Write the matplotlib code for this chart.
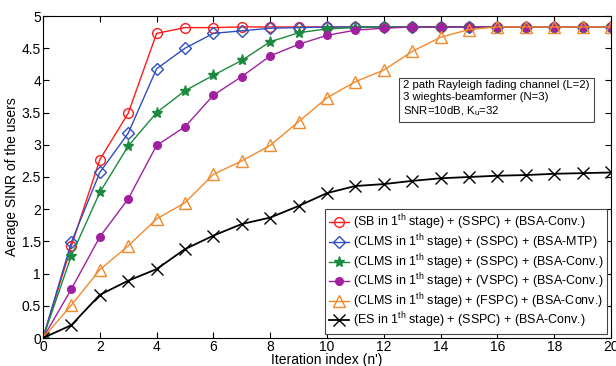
import matplotlib
matplotlib.use('Agg')
import matplotlib.pyplot as plt

iters = list(range(21))

sb_sspc_conv = [0, 1.43, 2.77, 3.49, 4.73, 4.82, 4.82, 4.83, 4.83, 4.83, 4.83,
                4.83, 4.83, 4.83, 4.83, 4.83, 4.83, 4.83, 4.83, 4.83, 4.83]
clms_sspc_mtp = [0, 1.49, 2.57, 3.18, 4.18, 4.50, 4.73, 4.77, 4.81, 4.82, 4.83,
                 4.83, 4.83, 4.83, 4.83, 4.83, 4.83, 4.83, 4.83, 4.83, 4.83]
clms_sspc_conv = [0, 1.28, 2.26, 2.98, 3.50, 3.84, 4.08, 4.31, 4.60, 4.74, 4.80,
                  4.82, 4.83, 4.83, 4.83, 4.83, 4.83, 4.83, 4.83, 4.83, 4.83]
clms_vspc_conv = [0, 0.76, 1.57, 2.16, 2.99, 3.28, 3.77, 4.06, 4.38, 4.56, 4.70,
                  4.78, 4.81, 4.83, 4.83, 4.83, 4.83, 4.83, 4.83, 4.83, 4.83]
clms_fspc_conv = [0, 0.51, 1.06, 1.43, 1.85, 2.10, 2.54, 2.75, 2.99, 3.36, 3.73,
                  3.98, 4.16, 4.45, 4.67, 4.79, 4.83, 4.83, 4.83, 4.83, 4.83]
es_sspc_conv = [0, 0.20, 0.67, 0.89, 1.07, 1.38, 1.59, 1.77, 1.87, 2.05, 2.25,
                2.36, 2.39, 2.44, 2.48, 2.50, 2.52, 2.53, 2.55, 2.56, 2.57]

series = [
    (sb_sspc_conv, r'(SB in 1$^{\rm th}$ stage) + (SSPC) + (BSA-Conv.)', '#ff1a1a', 'o', 'none'),
    (clms_sspc_mtp, r'(CLMS in 1$^{\rm th}$ stage) + (SSPC) + (BSA-MTP)', '#2f4fbf', 'D', 'none'),
    (clms_sspc_conv, r'(CLMS in 1$^{\rm th}$ stage) + (SSPC) + (BSA-Conv.)', '#1b8a3c', '*', None),
    (clms_vspc_conv, r'(CLMS in 1$^{\rm th}$ stage) + (VSPC) + (BSA-Conv.)', '#a0209f', 'o', None),
    (clms_fspc_conv, r'(CLMS in 1$^{\rm th}$ stage) + (FSPC) + (BSA-Conv.)', '#f2892a', '^', 'none'),
    (es_sspc_conv, r'(ES in 1$^{\rm th}$ stage) + (SSPC) + (BSA-Conv.)', 'black', 'x', None),
]

plt.rcParams['font.family'] = ['Liberation Sans', 'DejaVu Sans']
plt.rcParams['mathtext.fontset'] = 'custom'
plt.rcParams['mathtext.rm'] = 'Liberation Sans'

fig = plt.figure(figsize=(6.16, 3.66), dpi=100)
ax = fig.add_axes([43 / 616, 1 - 338 / 366, 568 / 616, 322 / 366])

for vals, label, color, marker, face in series:
    ms = {'o': 7, 'D': 6, '*': 8, '^': 8, 'x': 9}[marker]
    if marker == 'o' and face is None:
        ms = 5.5
    lw = 1.3 if color == 'black' else 1.0
    kw = dict(color=color, marker=marker, markersize=ms, linewidth=lw,
              markeredgewidth=1.0, label=label)
    if face == 'none':
        kw['markerfacecolor'] = 'none'
    ax.plot(iters, vals, **kw)

ax.set_xlim(0, 20)
ax.set_ylim(0, 5)
ax.set_xticks(range(0, 21, 2))
ax.set_yticks([i * 0.5 for i in range(11)])
ax.set_yticklabels(['0', '0.5', '1', '1.5', '2', '2.5', '3', '3.5', '4', '4.5', '5'])
ax.tick_params(direction='in', top=True, right=True, labelsize=10, length=4, pad=1.5)
ax.set_xlabel("Iteration index (n')", fontsize=10, labelpad=-1)
ax.set_ylabel('Aerage SINR of the users', fontsize=10, labelpad=2)

ax.text(0.634, 0.80,
        '2 path Rayleigh fading channel (L=2)\n3 wieghts-beamformer (N=3)\nSNR=10dB, K$_{\\rm u}$=32',
        transform=ax.transAxes, fontsize=8.2, va='top', ha='left', linespacing=1.25,
        bbox=dict(boxstyle='square,pad=0.35', facecolor='white', edgecolor='#444444', linewidth=0.8))

leg = ax.legend(loc='lower right', fontsize=9, handlelength=1.6, handletextpad=0.3,
                borderaxespad=0.3, labelspacing=0.0, fancybox=False, framealpha=1,
                edgecolor='#444444', borderpad=0.3)
leg.get_frame().set_linewidth(0.8)

plt.savefig('out.png', dpi=100)
